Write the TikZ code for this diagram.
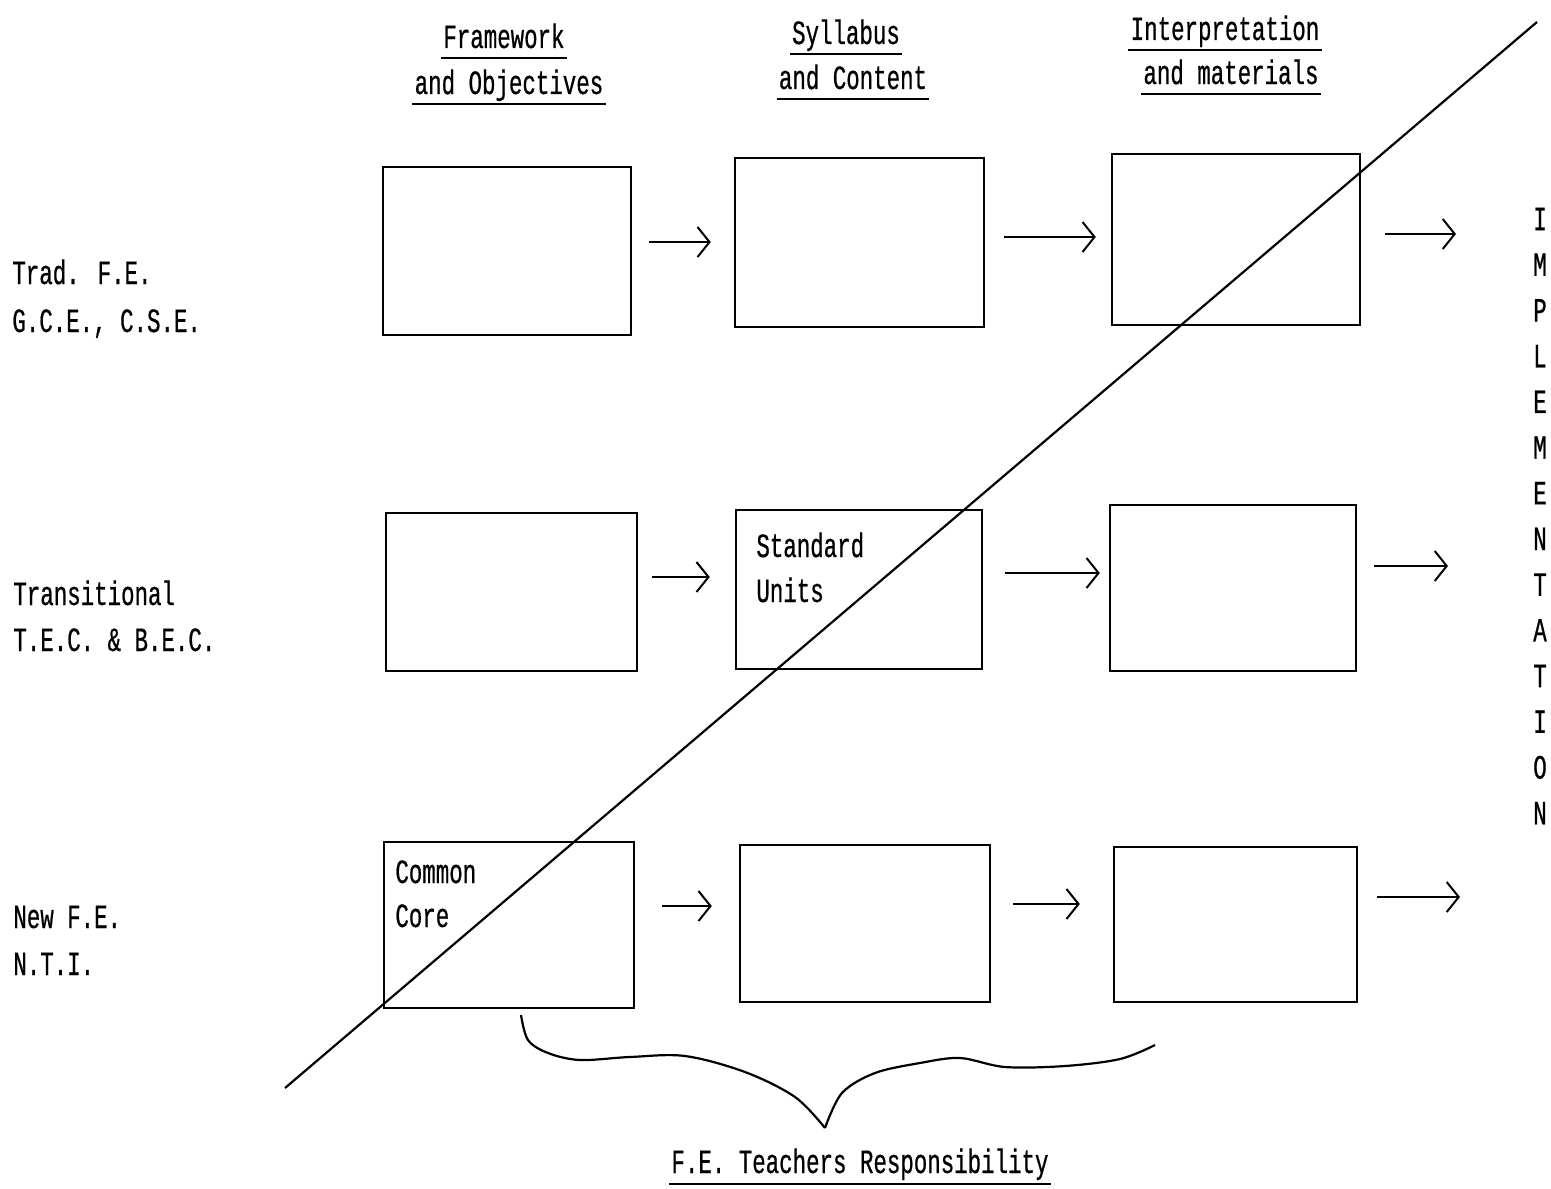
\documentclass[tikz,border=0pt]{standalone}
\usepackage{fontspec}
\newfontfamily\tw{Liberation Mono}[FakeStretch=0.66,FakeBold=0.6]
\usetikzlibrary{calc,arrows.meta}
\begin{document}
\begin{tikzpicture}[x=0.5pt,y=-0.5pt,
  box/.style={draw,line width=1.2pt,inner sep=0pt},
  lbl/.style={font=\tw\fontsize{17}{20}\selectfont,inner sep=0pt},
  uline/.style={line width=1.3pt},
  arr/.style={line width=1.2pt,-{Straight Barb[length=6pt,width=15pt,line width=1pt]}}]
\useasboundingbox (0,0) rectangle (1551,1188);
% column headings
\node[lbl,anchor=base] (h1a) at (504,48) {Framework};
\node[lbl,anchor=base] (h1b) at (509,94) {and Objectives};
\node[lbl,anchor=base] (h2a) at (846,44) {Syllabus};
\node[lbl,anchor=base] (h2b) at (853,89) {and Content};
\node[lbl,anchor=base] (h3a) at (1225,40) {Interpretation};
\node[lbl,anchor=base] (h3b) at (1231,84) {and materials};
\foreach \n in {h1a,h1b,h2a,h2b,h3a,h3b}
  \draw[uline] ($(\n.base west)+(-2,10)$) -- ($(\n.base east)+(2,10)$);
% row labels
\node[lbl,anchor=base west] (r1a) at (12,284) {Trad. F.E.};
\node[lbl,anchor=base west] (r1b) at (12,332) {G.C.E., C.S.E.};
\node[lbl,anchor=base west] (r2a) at (13,605) {Transitional};
\node[lbl,anchor=base west] (r2b) at (13,651) {T.E.C. \& B.E.C.};
\node[lbl,anchor=base west] (r3a) at (13,928) {New F.E.};
\node[lbl,anchor=base west] (r3b) at (13,975) {N.T.I.};
% boxes
\node[box,minimum width=124pt,minimum height=84pt] (A1) at (507,251) {};
\node[box,minimum width=124.5pt,minimum height=84.5pt] (B1) at (859.5,242.5) {};
\node[box,minimum width=124pt,minimum height=85.5pt] (C1) at (1236,239.5) {};
\node[box,minimum width=125.5pt,minimum height=79pt] (A2) at (511.5,592) {};
\node[box,minimum width=123pt,minimum height=79.5pt] (B2) at (859,589.5) {};
\node[box,minimum width=123pt,minimum height=83pt] (C2) at (1233,588) {};
\node[box,minimum width=125pt,minimum height=83pt] (A3) at (509,925) {};
\node[box,minimum width=125pt,minimum height=78.5pt] (B3) at (865,923.5) {};
\node[box,minimum width=121.5pt,minimum height=77.5pt] (C3) at (1235.5,924.5) {};
% texts in boxes
\node[lbl,anchor=base west] (su1) at (756,557) {Standard};
\node[lbl,anchor=base west] (su2) at (756,602) {Units};
\node[lbl,anchor=base west] (cc1) at (395,883) {Common};
\node[lbl,anchor=base west] (cc2) at (395,927) {Core};
% implementation
\node[lbl,align=center,font=\tw\fontsize{17}{22.85}\selectfont] (impl) at (1540,516)
  {I\\M\\P\\L\\E\\M\\E\\N\\T\\A\\T\\I\\O\\N};
% arrow free ends
\coordinate (o1) at (1456,234);
\coordinate (o2) at (1448,566);
\coordinate (o3) at (1460,897);
% arrows
\draw[arr] ($(A1.east)+(17,-9)$) -- ($(B1.west)+(-23,-0.5)$);
\draw[arr] ($(B1.east)+(19,-5.5)$) -- ($(C1.west)+(-15,-2.5)$);
\draw[arr] ($(C1.east)+(24,-5.5)$) -- (o1);
\draw[arr] ($(A2.east)+(14,-15)$) -- ($(B2.west)+(-25,-12.5)$);
\draw[arr] ($(B2.east)+(22,-16.5)$) -- ($(C2.west)+(-9,-15)$);
\draw[arr] ($(C2.east)+(17,-22)$) -- (o2);
\draw[arr] ($(A3.east)+(27,-19)$) -- ($(B3.west)+(-27,-17.5)$);
\draw[arr] ($(B3.east)+(22,-19.5)$) -- ($(C3.west)+(-33,-20.5)$);
\draw[arr] ($(C3.east)+(19,-27.5)$) -- (o3);
% diagonal
\coordinate (d1) at (285,1088);
\coordinate (d2) at (1537,22);
\draw[line width=1.1pt] (d1) -- (d2);
% brace
\draw[line width=1.1pt] plot[smooth,tension=0.55] coordinates
  {(521,1015) (528,1040) (548,1053) (580,1060) (630,1057) (685,1056) (745,1072) (795,1097) (825,1128)};
\draw[line width=1.1pt] plot[smooth,tension=0.55] coordinates
  {(825,1128) (842,1093) (875,1073) (920,1063) (960,1058) (1005,1067) (1065,1066) (1120,1059) (1155,1045)};
% bottom label
\node[lbl,anchor=base] (ft) at (860,1173) {F.E. Teachers Responsibility};
\draw[uline] ($(ft.base west)+(-2,11)$) -- ($(ft.base east)+(2,11)$);
\end{tikzpicture}
\end{document}
